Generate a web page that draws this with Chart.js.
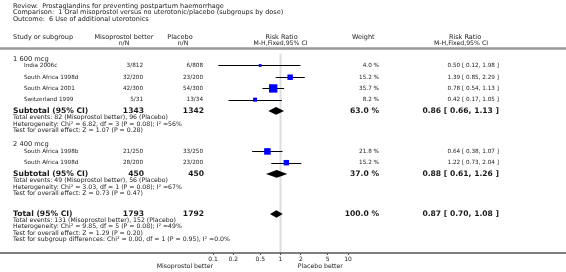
<!DOCTYPE html>
<html>
<head>
<meta charset="utf-8">
<script src="https://cdn.jsdelivr.net/npm/chart.js@4"></script>
<style>
  html, body { margin: 0; padding: 0; background: #fff; }
  #wrap { width: 566px; height: 272px; }
</style>
</head>
<body>
<div id="wrap"><canvas id="forest"></canvas></div>
<script>
// ---- data ----
const titleLines = [
    'Review:  Prostaglandins for preventing postpartum haemorrhage',
    'Comparison:  1 Oral misoprostol versus no uterotonic/placebo (subgroups by dose)',
    'Outcome:  6 Use of additional uterotonics'
];
const groupNames = ['1 600 mcg', '2 400 mcg'];
const studyNames = ['India 2006c', 'South Africa 1998d', 'South Africa 2001', 'Switzerland 1999', 'South Africa 1998b', 'South Africa 1998d'];
const studyGroup = [0, 0, 0, 0, 1, 1];
const misoEvents = [3, 32, 42, 5, 21, 28];
const misoTotal = [812, 200, 300, 31, 250, 200];
const placEvents = [6, 23, 54, 13, 33, 23];
const placTotal = [808, 200, 300, 34, 250, 200];
const studyWeight = [4.0, 15.2, 35.7, 8.2, 21.8, 15.2];
const studyRR = [0.50, 1.39, 0.78, 0.42, 0.64, 1.22];
const studyLo = [0.12, 0.85, 0.54, 0.17, 0.38, 0.73];
const studyHi = [1.98, 2.29, 1.13, 1.05, 1.07, 2.04];

const subMisoN = [1343, 450];
const subPlacN = [1342, 450];
const subWeight = [63.0, 37.0];
const subRR = [0.86, 0.88];
const subLo = [0.66, 0.61];
const subHi = [1.13, 1.26];
const subMisoEv = [82, 49];
const subPlacEv = [96, 56];
const subChi = [6.82, 3.03];
const subDf = [3, 1];
const subHetP = [0.08, 0.08];
const subI2 = ['56%', '67%'];
const subZ = [1.07, 0.73];
const subP = [0.28, 0.47];

const total = { misoN: 1793, placN: 1792, weight: 100.0, rr: 0.87, lo: 0.70, hi: 1.08,
    misoEv: 131, placEv: 152, chi: 9.85, df: 5, hetP: 0.08, i2: '49%', z: 1.29, p: 0.20 };
const subgroupDiff = 'Test for subgroup differences: Chi\u00b2 = 0.00, df = 1 (P = 0.95), I\u00b2 =0.0%';

const tickValues = [0.1, 0.2, 0.5, 1, 2, 5, 10];
const favourLeft = 'Misoprostol better';
const favourRight = 'Placebo better';

// ---- layout (row positions on the y scale, column x in px) ----
const studyRowY = [61, 73, 84.5, 96, 149, 160.5];
const groupRowY = [55, 142];
const subRowY = [107.5, 172];
const totalRowY = 213;
const noteStep = 6.6;
const col = { name: 13, study: 24, miso: 144, plac: 204, weight: 379, rr: 499 };
const FONT = '"DejaVu Sans", Verdana, sans-serif';

const fmt = v => v.toFixed(2);
const ciText = (r, l, h) => `${fmt(r)} [ ${fmt(l)}, ${fmt(h)} ]`;

function text(ctx, str, x, y, size, align, bold) {
    ctx.font = `${bold ? 'bold ' : ''}${size}px ${FONT}`;
    ctx.textAlign = align || 'left';
    ctx.fillText(str, x, y);
}

function diamond(ctx, x, y, r, l, h, py) {
    const yc = y.getPixelForValue(py);
    ctx.beginPath();
    ctx.moveTo(x.getPixelForValue(l), yc);
    ctx.lineTo(x.getPixelForValue(r), yc - 3.8);
    ctx.lineTo(x.getPixelForValue(h), yc);
    ctx.lineTo(x.getPixelForValue(r), yc + 3.8);
    ctx.closePath();
    ctx.fill();
}

const forestPlugin = {
    id: 'forest',
    beforeDatasetsDraw(chart) {
        const { ctx, scales: { x, y } } = chart;
        ctx.save();
        // line of no effect
        const x1 = x.getPixelForValue(1);
        ctx.strokeStyle = '#dddddd';
        ctx.lineWidth = 2;
        ctx.beginPath();
        ctx.moveTo(x1, y.getPixelForValue(49));
        ctx.lineTo(x1, y.getPixelForValue(253));
        ctx.stroke();
        // confidence intervals
        ctx.strokeStyle = '#000';
        ctx.lineWidth = 1;
        studyNames.forEach((s, i) => {
            const py = Math.round(y.getPixelForValue(studyRowY[i])) + 0.5;
            ctx.beginPath();
            ctx.moveTo(x.getPixelForValue(studyLo[i]), py);
            ctx.lineTo(x.getPixelForValue(studyHi[i]), py);
            ctx.stroke();
        });
        ctx.fillStyle = '#000';
        groupNames.forEach((g, k) => diamond(ctx, x, y, subRR[k], subLo[k], subHi[k], subRowY[k]));
        diamond(ctx, x, y, total.rr, total.lo, total.hi, totalRowY);
        ctx.restore();
    },
    afterDraw(chart) {
        const { ctx, scales: { x, y } } = chart;
        const W = chart.width;
        ctx.save();
        ctx.fillStyle = '#1a1a1a';
        ctx.textBaseline = 'middle';

        titleLines.forEach((t, i) => text(ctx, t, 13, 6 + i * 6.5, 6.5));

        // column headers
        text(ctx, 'Study or subgroup', 13, 37, 6.5);
        text(ctx, 'Misoprostol better', 124, 37, 6.5, 'center');
        text(ctx, 'n/N', 124, 43, 6.2, 'center');
        text(ctx, 'Placebo', 180, 37, 6.5, 'center');
        text(ctx, 'n/N', 183, 43, 6.2, 'center');
        text(ctx, 'Risk Ratio', x.getPixelForValue(1) + 1, 37, 6.5, 'center');
        text(ctx, 'M-H,Fixed,95% CI', x.getPixelForValue(1), 43, 6.2, 'center');
        text(ctx, 'Weight', 352, 37, 6.5);
        text(ctx, 'Risk Ratio', 465, 37, 6.5, 'center');
        text(ctx, 'M-H,Fixed,95% CI', 461, 43, 6.2, 'center');

        ctx.strokeStyle = '#9a9a9a';
        ctx.lineWidth = 2.5;
        ctx.beginPath();
        ctx.moveTo(0, 48.5);
        ctx.lineTo(W, 48.5);
        ctx.stroke();

        groupNames.forEach((g, k) => {
            text(ctx, g, col.name, y.getPixelForValue(groupRowY[k]), 6.7);
            studyNames.forEach((s, i) => {
                if (studyGroup[i] !== k) return;
                const py = y.getPixelForValue(studyRowY[i]);
                text(ctx, s, col.study, py, 5.7);
                text(ctx, `${misoEvents[i]}/${misoTotal[i]}`, col.miso - 1, py, 5.7, 'right');
                text(ctx, `${placEvents[i]}/${placTotal[i]}`, col.plac - 1, py, 5.7, 'right');
                text(ctx, `${studyWeight[i].toFixed(1)} %`, col.weight, py, 5.7, 'right');
                text(ctx, ciText(studyRR[i], studyLo[i], studyHi[i]), col.rr, py, 5.7, 'right');
            });
            const sy = y.getPixelForValue(subRowY[k]);
            text(ctx, 'Subtotal (95% CI)', col.name, sy, 7.6, 'left', true);
            text(ctx, String(subMisoN[k]), col.miso, sy, 7.6, 'right', true);
            text(ctx, String(subPlacN[k]), col.plac, sy, 7.6, 'right', true);
            text(ctx, `${subWeight[k].toFixed(1)} %`, col.weight, sy, 7.6, 'right', true);
            text(ctx, ciText(subRR[k], subLo[k], subHi[k]), col.rr, sy, 7.6, 'right', true);
            const notes = [
                `Total events: ${subMisoEv[k]} (Misoprostol better), ${subPlacEv[k]} (Placebo)`,
                `Heterogeneity: Chi\u00b2 = ${fmt(subChi[k])}, df = ${subDf[k]} (P = ${fmt(subHetP[k])}); I\u00b2 =${subI2[k]}`,
                `Test for overall effect: Z = ${fmt(subZ[k])} (P = ${fmt(subP[k])})`
            ];
            notes.forEach((n, j) => text(ctx, n, col.name, y.getPixelForValue(subRowY[k] + 7 + j * noteStep), 6.2));
        });

        const ty = y.getPixelForValue(totalRowY);
        text(ctx, 'Total (95% CI)', col.name, ty, 7.6, 'left', true);
        text(ctx, String(total.misoN), col.miso, ty, 7.6, 'right', true);
        text(ctx, String(total.placN), col.plac, ty, 7.6, 'right', true);
        text(ctx, `${total.weight.toFixed(1)} %`, col.weight, ty, 7.6, 'right', true);
        text(ctx, ciText(total.rr, total.lo, total.hi), col.rr, ty, 7.6, 'right', true);
        [
            `Total events: ${total.misoEv} (Misoprostol better), ${total.placEv} (Placebo)`,
            `Heterogeneity: Chi\u00b2 = ${fmt(total.chi)}, df = ${total.df} (P = ${fmt(total.hetP)}); I\u00b2 =${total.i2}`,
            `Test for overall effect: Z = ${fmt(total.z)} (P = ${fmt(total.p)})`,
            subgroupDiff
        ].forEach((n, j) => text(ctx, n, col.name, y.getPixelForValue(totalRowY + 6.5 + j * noteStep), 6.2));

        // axis rule across the full width
        ctx.strokeStyle = '#555';
        ctx.lineWidth = 1.5;
        ctx.beginPath();
        ctx.moveTo(0, chart.chartArea.bottom);
        ctx.lineTo(W, chart.chartArea.bottom);
        ctx.stroke();

        text(ctx, favourLeft, x.getPixelForValue(0.1), 266, 6.2, 'right');
        text(ctx, favourRight, x.getPixelForValue(2) - 3, 266, 6.2, 'left');
        ctx.restore();
    }
};

new Chart(document.getElementById('forest'), {
    type: 'scatter',
    data: {
        datasets: [{
            data: studyRR.map((v, i) => ({ x: v, y: studyRowY[i] })),
            pointStyle: 'rect',
            pointRadius: studyWeight.map(w => 1.4 * Math.sqrt(w) / Math.SQRT2),
            pointHoverRadius: studyWeight.map(w => 1.4 * Math.sqrt(w) / Math.SQRT2),
            backgroundColor: '#0000ff',
            borderWidth: 0,
            clip: false
        }]
    },
    options: {
        responsive: true,
        maintainAspectRatio: false,
        animation: false,
        devicePixelRatio: 1,
        layout: { padding: { left: 213, right: 218, top: 0, bottom: 0 } },
        plugins: { legend: { display: false }, tooltip: { enabled: false } },
        scales: {
            x: {
                type: 'logarithmic',
                min: 0.1,
                max: 10,
                afterBuildTicks: scale => { scale.ticks = tickValues.map(v => ({ value: v })); },
                afterFit: scale => { scale.height = 19; },
                border: { display: false },
                grid: { drawOnChartArea: false, drawTicks: true, tickLength: 2, color: '#555' },
                ticks: {
                    autoSkip: false, maxRotation: 0, padding: 1, color: '#222',
                    font: { family: FONT, size: 6 },
                    callback: v => String(v)
                }
            },
            y: { type: 'linear', reverse: true, min: 0, max: 253, display: false }
        }
    },
    plugins: [forestPlugin]
});
</script>
</body>
</html>
